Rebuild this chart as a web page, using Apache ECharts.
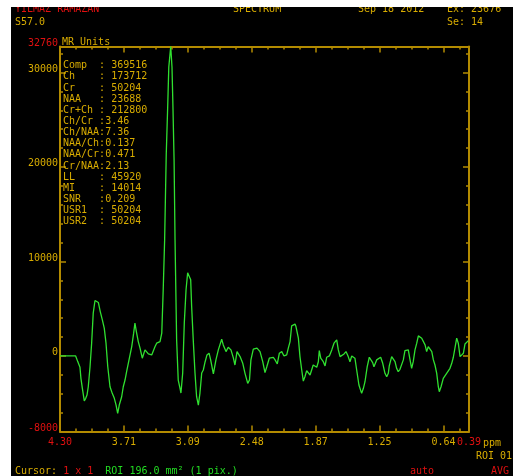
<!DOCTYPE html>
<html>
<head>
<meta charset="utf-8">
<script src="https://cdn.jsdelivr.net/npm/echarts@6/dist/echarts.min.js"></script>
<style>
html, body { margin: 0; padding: 0; background: #ffffff; }
#chart { width: 513px; height: 476px; }
</style>
</head>
<body>
<div id="chart"></div>
<script>
// Spectrum samples: position along the acquisition (0..256 points) and signal in MR units
const pointIdx = [
  0, 9.8, 11.1, 12.5, 13.1, 14.0, 15.2, 16.1, 16.9, 17.7, 18.8, 19.8, 20.8, 21.9, 22.7, 24.0,
  25.2, 26.5, 27.7, 28.8, 29.9, 31.3, 32.7, 34.0, 35.1, 36.1, 37.1, 38.6, 39.6, 40.7, 41.7, 43.2,
  44.9, 46.1, 46.9, 47.8, 49.0, 50.1, 51.5, 53.2, 54.3, 55.3, 56.3, 57.4, 58.4, 59.5, 60.5, 62.6,
  63.7, 64.6, 65.5, 66.5, 67.4, 68.1, 69.3, 70.1, 70.7, 71.4, 72.0, 73.0, 74.0, 75.1, 75.7, 76.8,
  77.8, 78.9, 79.9, 80.9, 81.8, 82.4, 83.4, 84.5, 85.5, 86.6, 87.6, 88.7, 89.7, 90.8, 92.0, 93.3,
  94.3, 96.0, 97.6, 99.1, 101.2, 102.2, 103.9, 105.3, 107.0, 108.5, 109.5, 110.8, 112.7, 114.4, 115.8, 117.5,
  118.6, 119.5, 121.0, 123.3, 125.2, 126.9, 128.3, 129.4, 131.0, 133.5, 134.6, 136.0, 137.3, 138.8, 140.2, 141.9,
  142.9, 144.0, 145.0, 147.1, 147.7, 149.2, 150.2, 151.3, 152.3, 153.3, 154.4, 155.4, 156.5, 157.5, 158.5, 159.6,
  160.7, 161.7, 162.3, 163.2, 164.8, 165.9, 166.9, 168.6, 170.1, 171.5, 173.2, 174.2, 175.3, 176.3, 177.8, 179.0,
  180.4, 181.5, 182.6, 183.6, 184.6, 185.7, 187.1, 188.8, 189.9, 190.9, 192.3, 193.6, 194.5, 195.7, 196.5, 198.2,
  199.2, 200.7, 202.0, 203.4, 204.5, 205.5, 206.1, 207.6, 208.6, 209.7, 210.7, 211.7, 212.8, 213.9, 214.9, 215.9,
  217.0, 218.0, 219.1, 220.1, 221.1, 222.2, 223.3, 224.3, 225.3, 226.4, 227.4, 228.5, 229.5, 230.5, 231.6, 232.7,
  233.7, 234.7, 235.8, 236.8, 237.4, 238.5, 239.9, 242.0, 244.1, 245.2, 246.2, 247.2, 248.3, 249.3, 250.4, 251.4,
  252.5, 253.5, 254.6, 255.6
];
const mrUnits = [
  0, 0, -600, -1200, -2370, -3430, -4750, -4490, -4140, -3260, -1140, 1350, 4530, 5870, 6020, 5660,
  4700, 3820, 2940, 1350, -1140, -3260, -3960, -4490, -5200, -6090, -5200, -4320, -3260, -2550, -1670, -420,
  990, 2410, 3470, 2580, 1520, 820, -240, 640, 460, 210, 350, 110, -70, 990, 1350, 1520,
  2410, 7010, 12320, 21350, 26340, 30590, 32760, 30590, 26340, 20800, 12320, 1700, -2550, -3400, -3930, -1810,
  3500, 7010, 8810, 8920, 8070, 5240, 1700, -1810, -4320, -5200, -3930, -1810, -1490, -640, 110, 290,
  -420, -1910, -420, 640, 1770, 1170, 460, 920, 640, -210, -960, 460, -70, -780, -1840, -2900,
  -2550, -420, 710, 820, 460, -610, -1770, -1170, -240, -140, -420, -850, 290, 460, 0, 110,
  820, 1520, 3190, 3370, 3110, 1880, -70, -1490, -2660, -2200, -1560, -1410, -2020, -2020, -960, -780,
  -1200, -610, 560, -240, -610, -1060, -140, 0, 640, 1350, 1700, 640, -70, -140, 210, 460,
  -70, -610, 0, 0, -240, -1490, -3080, -3960, -3430, -2730, -1140, -140, 0, -710, -1140, -420,
  -240, -140, -780, -1840, -2200, -1840, -1060, -70, 110, -610, -1310, -1670, -1410, -1200, -420, 560,
  710, 640, -420, -1310, -610, 640, 1350, 2120, 2120, 1880, 1700, 1170, 460, 990, 1170, 460,
  -420, -960, -1840, -3260, -3790, -3260, -2370, -1840, -1310, -780, -140, 820, 1880, 1350, -70, -240,
  290, 1270, 1350, 1620
];

// Chemical shift labels (ppm) at every 40 points, and the value at the right end
const ppmTickLabels = ['4.30', '3.71', '3.09', '2.48', '1.87', '1.25', '0.64'];
const ppmEndLabel = '0.39';

// Vertical range of the display in MR units
const yMin = -8000;
const yMax = 32760;

// Metabolite table
const metricNames = ['Comp', 'Ch', 'Cr', 'NAA', 'Cr+Ch', 'Ch/Cr', 'Ch/NAA', 'NAA/Ch', 'NAA/Cr', 'Cr/NAA', 'LL', 'MI', 'SNR', 'USR1', 'USR2'];
const metricValues = [' 369516', ' 173712', ' 50204', ' 23688', ' 212800', '3.46', '7.36', '0.137', '0.471', '2.13', ' 45920', ' 14014', '0.209', ' 50204', ' 50204'];

const YEL = '#d8ac00';
const AXIS = '#b38b00';
const RED = '#e01010';
const GRN = '#22dd22';
const FONT = "'DejaVu Sans Mono', 'Liberation Mono', monospace";
const FS = 10;

const chart = echarts.init(document.getElementById('chart'), null, { renderer: 'canvas' });

function txt(text, x, y, color, extra) {
  return Object.assign({
    type: 'text', x: x, y: y, z: 10,
    style: { text: text, fill: color, font: FS + 'px ' + FONT, verticalAlign: 'middle', align: 'left' }
  }, extra || {});
}

const tableLines = metricNames.map((n, i) => (n + '      ').slice(0, 6) + ':' + metricValues[i]);

const baseX = {
  type: 'value', min: 0, max: 256, position: 'bottom',
  axisLine: { show: false, onZero: false },
  splitLine: { show: false },
  axisLabel: { show: false },
  axisTick: { inside: true, length: 3, lineStyle: { color: AXIS, width: 1.5 } }
};
const baseY = {
  type: 'value', min: yMin, max: yMax, position: 'left',
  axisLine: { show: false, onZero: false },
  splitLine: { show: false },
  axisLabel: { show: false },
  axisTick: { inside: true, length: 3, lineStyle: { color: AXIS, width: 1.5 } }
};
const mainLine = { show: true, onZero: false, lineStyle: { color: AXIS, width: 2 } };
const longTick = { inside: true, length: 6, lineStyle: { color: AXIS, width: 1.5 } };

const option = {
  animation: false,
  backgroundColor: '#000000',
  grid: { left: 60, right: 44, top: 46.5, bottom: 44.5, containLabel: false },
  xAxis: [
    Object.assign({}, baseX, {
      interval: 40,
      axisLine: mainLine, axisTick: longTick,
      axisLabel: {
        show: true, showMinLabel: true, showMaxLabel: true, margin: 6,
        color: YEL, fontFamily: FONT, fontSize: FS, lineHeight: 10,
        formatter: function (v) {
          if (v === 0) return '{r|' + ppmTickLabels[0] + '}';
          if (v === 256) return '{r|' + ppmEndLabel + '}';
          return ppmTickLabels[Math.round(v / 40)] || '';
        },
        rich: {
          r: { color: RED, fontFamily: FONT, fontSize: FS }
        }
      }
    }),
    Object.assign({}, baseX, { interval: 10 }),
    Object.assign({}, baseX, { position: 'top', interval: 40, axisLine: mainLine, axisTick: longTick }),
    Object.assign({}, baseX, { position: 'top', interval: 10 })
  ],
  yAxis: [
    Object.assign({}, baseY, {
      minInterval: 10000, maxInterval: 10000, splitNumber: 4,
      axisLine: mainLine, axisTick: longTick,
      axisLabel: {
        show: true, showMinLabel: true, showMaxLabel: true, margin: 2,
        color: YEL, fontFamily: FONT, fontSize: FS, verticalAlign: 'bottom', lineHeight: 7,
        formatter: function (v) {
          if (v === yMin || v === yMax) return '{r|' + v + '}';
          return String(v);
        },
        rich: { r: { color: RED, fontFamily: FONT, fontSize: FS, lineHeight: 7 } }
      }
    }),
    Object.assign({}, baseY, { interval: 2000 }),
    Object.assign({}, baseY, { position: 'right', minInterval: 10000, maxInterval: 10000, splitNumber: 4, axisLine: mainLine, axisTick: longTick }),
    Object.assign({}, baseY, { position: 'right', interval: 2000 })
  ],
  series: [{
    type: 'line',
    xAxisIndex: 0, yAxisIndex: 0,
    data: pointIdx.map((x, i) => [x, mrUnits[i]]),
    showSymbol: false,
    clip: true,
    lineStyle: { color: '#30e030', width: 1.3 },
    z: 5
  }],
  graphic: [
    txt('YILMAZ RAMAZAN', 15, 9, RED),
    txt('SPECTRUM', 233, 9, YEL),
    txt('Sep 18 2012', 358, 9, YEL),
    txt('Ex: 23676', 447, 9, YEL),
    txt('S57.0', 15, 22.5, YEL),
    txt('Se: 14', 447, 22.5, YEL),
    // axis units
    txt('MR Units', 62, 42.5, YEL),
    txt('ppm', 483, 443, YEL),
    {
      type: 'text', x: 63, y: 60.1, z: 10,
      style: { text: tableLines.join('\n'), fill: YEL, font: FS + 'px ' + FONT, lineHeight: 11.14, verticalAlign: 'top', align: 'left' }
    },
    txt('ROI 01', 476, 456, YEL),
    {
      type: 'text', x: 15, y: 471, z: 10,
      style: {
        text: '{y|Cursor: }{r|1 x 1}{g|  ROI 196.0 mm² (1 pix.)}',
        font: FS + 'px ' + FONT, verticalAlign: 'middle', align: 'left',
        rich: {
          y: { fill: YEL, font: FS + 'px ' + FONT },
          r: { fill: RED, font: FS + 'px ' + FONT },
          g: { fill: GRN, font: FS + 'px ' + FONT }
        }
      }
    },
    txt('auto', 410, 471, RED),
    txt('AVG', 491, 471, RED),
    // white page margins around the monitor capture
    { type: 'rect', z: 100, shape: { x: 0, y: 0, width: 513, height: 7 }, style: { fill: '#ffffff' } },
    { type: 'rect', z: 100, shape: { x: 0, y: 0, width: 11, height: 476 }, style: { fill: '#ffffff' } }
  ]
};

chart.setOption(option);
</script>
</body>
</html>
